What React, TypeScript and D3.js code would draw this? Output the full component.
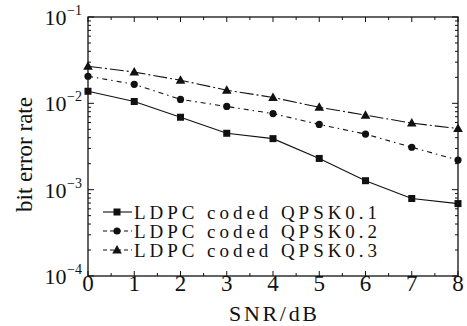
import React from "react";
import * as d3 from "d3";

const SNR = [0, 1, 2, 3, 4, 5, 6, 7, 8];
const BER_01 = [0.0138, 0.0105, 0.0069, 0.0045, 0.0039, 0.0023, 0.00127, 0.00079, 0.00069];
const BER_02 = [0.0206, 0.0166, 0.0111, 0.0092, 0.0076, 0.0057, 0.0044, 0.0031, 0.0022];
const BER_03 = [0.0269, 0.023, 0.0185, 0.0142, 0.0117, 0.009, 0.0073, 0.0059, 0.0051];
const LABELS = ["LDPC coded QPSK0.1", "LDPC coded QPSK0.2", "LDPC coded QPSK0.3"];
const X_TICKS = [0, 1, 2, 3, 4, 5, 6, 7, 8];
const Y_DECADES = [-4, -3, -2, -1];

const W = 467;
const H = 326;
const M = { left: 88, right: 9, top: 17, bottom: 50 };
const INK = "#111";
const FONT = "Liberation Serif, Times New Roman, serif";

const x = d3.scaleLinear().domain([0, 8]).range([M.left, W - M.right]);
const y = d3.scaleLog().domain([1e-4, 1e-1]).range([H - M.bottom, M.top]);

type Marker = "square" | "circle" | "triangle";
const SERIES: { values: number[]; dash: string; marker: Marker }[] = [
  { values: BER_01, dash: "none", marker: "square" },
  { values: BER_02, dash: "5,4,1.5,4", marker: "circle" },
  { values: BER_03, dash: "14,3,2,3", marker: "triangle" },
];

const Mark = ({ kind, cx, cy }: { kind: Marker; cx: number; cy: number }) => {
  if (kind === "square") return <rect x={cx - 3.5} y={cy - 3.5} width={7} height={7} fill={INK} />;
  if (kind === "circle") return <circle cx={cx} cy={cy} r={3.6} fill={INK} />;
  return <path d={`M${cx},${cy - 5} L${cx + 4.8},${cy + 3.5} L${cx - 4.8},${cy + 3.5} Z`} fill={INK} />;
};

export default function App() {
  const [x0, x1] = x.range();
  const [yb, yt] = y.range();
  const line = d3.line<number>().x((_, i) => x(SNR[i])).y(v => y(v));
  const minorX = d3.range(0, 8.01, 0.5).filter(v => !Number.isInteger(v));
  const yTicks = y.ticks();

  return (
    <svg width={W} height={H} style={{ position: "absolute", left: 0, top: 0, background: "#fff", fontFamily: FONT }}>
      <rect width={W} height={H} fill="#fff" />
      {/* frame */}
      <rect x={x0} y={yt} width={x1 - x0} height={yb - yt} fill="none" stroke={INK} strokeWidth={1.3} />

      {/* x ticks: bottom and top, inward */}
      {X_TICKS.map(t => (
        <g key={"xt" + t}>
          <line x1={x(t)} x2={x(t)} y1={yb} y2={yb - 5} stroke={INK} />
          <line x1={x(t)} x2={x(t)} y1={yt} y2={yt + 5} stroke={INK} />
          <text x={x(t)} y={291} textAnchor="middle" fontSize={23} fill={INK} style={{ fontFamily: FONT }}>{t}</text>
        </g>
      ))}
      {minorX.map(t => (
        <g key={"xm" + t}>
          <line x1={x(t)} x2={x(t)} y1={yb} y2={yb - 3} stroke={INK} />
          <line x1={x(t)} x2={x(t)} y1={yt} y2={yt + 3} stroke={INK} />
        </g>
      ))}

      {/* y ticks: left and right, inward */}
      {yTicks.map((t, i) => {
        const major = Math.abs(Math.log10(t) - Math.round(Math.log10(t))) < 1e-9;
        const len = major ? 6 : 3;
        return (
          <g key={"yt" + i}>
            <line x1={x0} x2={x0 + len} y1={y(t)} y2={y(t)} stroke={INK} />
            <line x1={x1} x2={x1 - len} y1={y(t)} y2={y(t)} stroke={INK} />
          </g>
        );
      })}
      {Y_DECADES.map(e => (
        <text key={"yl" + e} x={82} y={y(Math.pow(10, e)) + 8} textAnchor="end" fontSize={22} fill={INK} style={{ fontFamily: FONT }}>
          10
          <tspan fontSize={14} dx={0.5} dy={-10}>{"\u2212" + Math.abs(e)}</tspan>
        </text>
      ))}

      {/* series */}
      {SERIES.map((s, si) => (
        <g key={"s" + si}>
          <path d={line(s.values) ?? ""} fill="none" stroke={INK} strokeWidth={1.1} strokeDasharray={s.dash} />
          {s.values.map((v, i) => <Mark key={i} kind={s.marker} cx={x(SNR[i])} cy={y(v)} />)}
        </g>
      ))}

      {/* legend */}
      {SERIES.map((s, si) => {
        const ly = 212 + si * 19;
        return (
          <g key={"lg" + si}>
            <line x1={103} x2={132} y1={ly} y2={ly} stroke={INK} strokeWidth={1.1} strokeDasharray={s.dash === "none" ? "none" : "4,3"} />
            <Mark kind={s.marker} cx={117} cy={ly} />
            <text x={134} y={ly + 7} fontSize={19} fill={INK} textLength={243} lengthAdjust="spacing" style={{ fontFamily: FONT }}>{LABELS[si]}</text>
          </g>
        );
      })}

      {/* axis titles */}
      <text x={(x0 + x1) / 2} y={321} textAnchor="middle" fontSize={22} fill={INK} textLength={88} lengthAdjust="spacing" style={{ fontFamily: FONT }}>SNR/dB</text>
      <text transform={`translate(32,${(yt + yb) / 2 + 8}) rotate(-90)`} textAnchor="middle" fontSize={23} fill={INK} style={{ fontFamily: FONT }}>bit error rate</text>
    </svg>
  );
}
